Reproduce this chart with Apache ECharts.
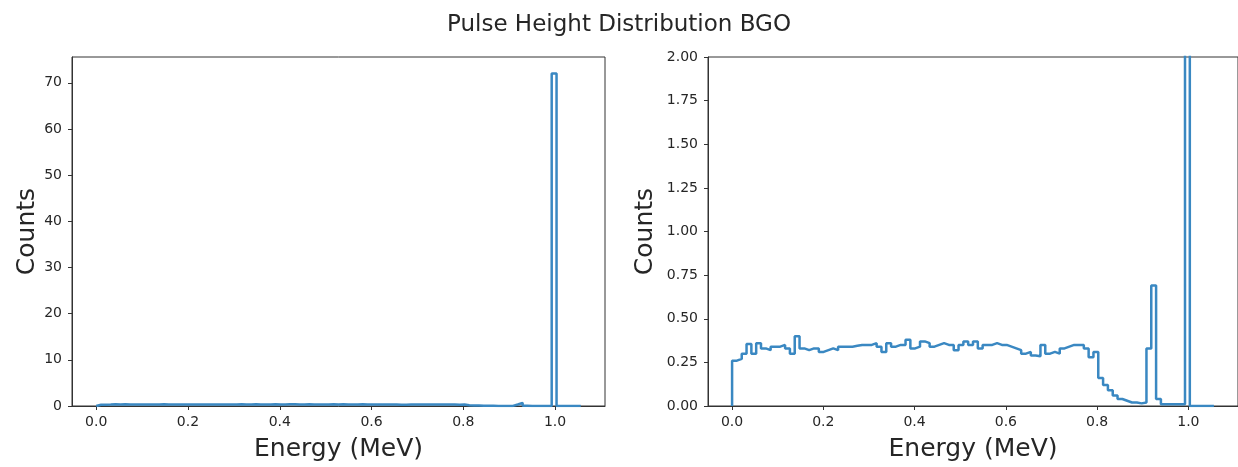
<!DOCTYPE html>
<html>
<head>
<meta charset="utf-8">
<script src="https://cdn.jsdelivr.net/npm/echarts@6/dist/echarts.min.js"></script>
<style>html,body{margin:0;padding:0;background:#fff}#c{width:1238px;height:467px}</style>
</head>
<body>
<div id="c"></div>
<script>
// Histogram: 100 bins from 0 to ENERGY_MAX (MeV)
const ENERGY_MAX = 1.056;
const NBINS = 100;
const counts = [
  0.26,0.27,0.30,0.355,0.30,0.36,0.33,0.32,0.34,0.34,
  0.35,0.33,0.30,0.40,0.33,0.32,0.33,0.33,0.31,0.32,
  0.33,0.32,0.34,0.34,0.34,0.345,0.35,0.35,0.35,0.36,
  0.34,0.31,0.36,0.34,0.35,0.35,0.38,0.33,0.34,0.37,
  0.36,0.34,0.35,0.36,0.35,0.35,0.32,0.35,0.37,0.35,
  0.37,0.33,0.35,0.35,0.36,0.35,0.35,0.34,0.33,0.32,
  0.30,0.31,0.29,0.285,0.35,0.30,0.31,0.30,0.33,0.34,
  0.35,0.35,0.35,0.33,0.28,0.31,0.16,0.12,0.09,0.06,
  0.04,0.03,0.02,0.02,0.015,0.02,0.33,0.69,0.04,0.01,
  0.01,0.01,0.01,0.01,72,0,0,0,0,0
];
const xTicks = [0, 0.2, 0.4, 0.6, 0.8, 1.0];
const yTicksLeft = [0, 10, 20, 30, 40, 50, 60, 70];
const titleText = 'Pulse Height Distribution BGO';
const xName = 'Energy (MeV)';
const yName = 'Counts';

const w = ENERGY_MAX / NBINS;
const pts = [[0, 0]];
counts.forEach((v, i) => pts.push([i * w, v]));
pts.push([NBINS * w, 0]);

const pad = 0.05 * ENERGY_MAX;
const font = 'DejaVu Sans';
const txt = '#262626';
const axc = '#333';

function xAxis(gi) {
  return {
    type: 'value', gridIndex: gi, min: -pad, max: ENERGY_MAX + pad,
    name: xName, nameLocation: 'middle', nameGap: 31,
    nameTextStyle: { fontFamily: font, fontSize: 25, color: txt },
    axisLine: { show: true, onZero: false, lineStyle: { color: axc } },
    axisTick: { show: true, length: 4, customValues: xTicks, lineStyle: { color: axc } },
    axisLabel: { customValues: xTicks, fontFamily: font, fontSize: 14, color: txt, margin: 9,
      formatter: v => v.toFixed(1) },
    splitLine: { show: false }
  };
}
const option = {
  animation: false,
  backgroundColor: '#fff',
  title: { text: titleText, left: 'center', top: 9,
    textStyle: { fontFamily: font, fontSize: 23, fontWeight: 'normal', color: txt } },
  grid: [
    { left: 72, top: 57, width: 533, height: 349, show: true, borderColor: axc, borderWidth: 1, backgroundColor: 'transparent' },
    { left: 708, top: 57, width: 533, height: 349, show: true, borderColor: axc, borderWidth: 1, backgroundColor: 'transparent' }
  ],
  xAxis: [xAxis(0), xAxis(1)],
  yAxis: [
    { type: 'value', gridIndex: 0, min: 0, max: 72 * 1.05,
      name: yName, nameLocation: 'middle', nameGap: 32,
      nameTextStyle: { fontFamily: font, fontSize: 25, color: txt },
      axisLine: { show: true, onZero: false, lineStyle: { color: axc } },
      axisTick: { show: true, length: 4, customValues: yTicksLeft, lineStyle: { color: axc } },
      axisLabel: { customValues: yTicksLeft, fontFamily: font, fontSize: 14, color: txt, margin: 10 },
      splitLine: { show: false } },
    { type: 'value', gridIndex: 1, min: 0, max: 2, interval: 0.25,
      name: yName, nameLocation: 'middle', nameGap: 50,
      nameTextStyle: { fontFamily: font, fontSize: 25, color: txt },
      axisLine: { show: true, onZero: false, lineStyle: { color: axc } },
      axisTick: { show: true, length: 4, lineStyle: { color: axc } },
      axisLabel: { fontFamily: font, fontSize: 14, color: txt, margin: 10, formatter: v => v.toFixed(2) },
      splitLine: { show: false } }
  ],
  series: [
    { type: 'line', xAxisIndex: 0, yAxisIndex: 0, data: pts, step: 'end', showSymbol: false,
      lineStyle: { color: '#3a88c2', width: 2.5 }, clip: true },
    { type: 'line', xAxisIndex: 1, yAxisIndex: 1, data: pts, step: 'end', showSymbol: false,
      lineStyle: { color: '#3a88c2', width: 2.5 }, clip: true }
  ]
};
echarts.init(document.getElementById('c')).setOption(option);
</script>
</body>
</html>
